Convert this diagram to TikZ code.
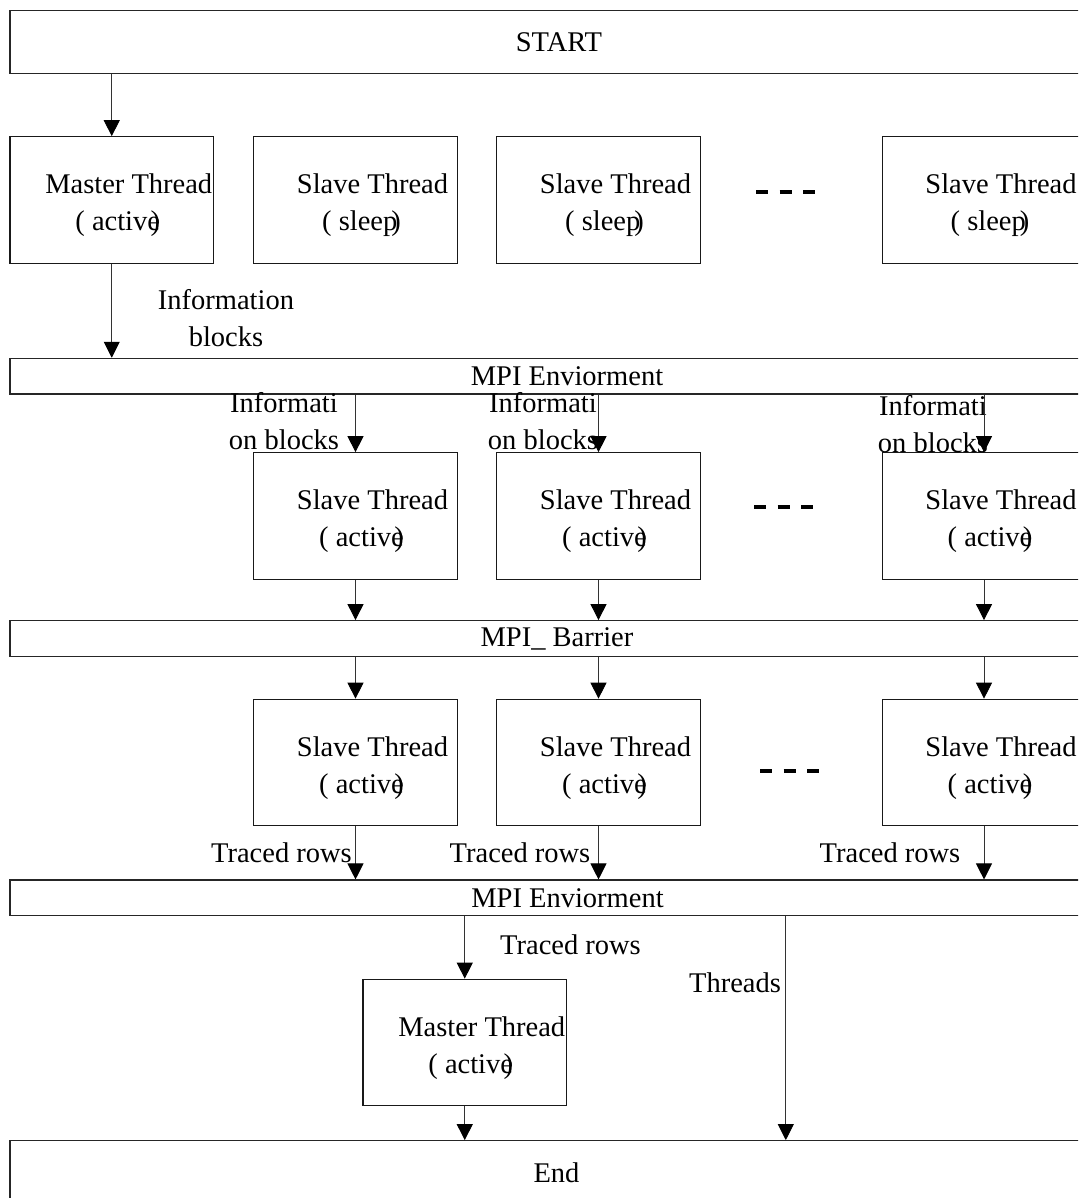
\documentclass[tikz,border=0pt]{standalone}
\usepackage{fontspec}
\setmainfont{Liberation Serif}
\usetikzlibrary{arrows.meta}
\newcommand{\thrtxt}[2]{\hspace*{34pt}\begin{tabular}{@{}c@{}}#1\rule{0pt}{36pt}\\#2\hspace*{22pt}\end{tabular}}
\newcommand{\actv}{( active\llap{)}}
\newcommand{\slp}{( sleep\kern-6pt)}
\begin{document}
\begin{tikzpicture}[x=1pt,y=-1pt,
  every node/.style={font=\fontsize{28.5}{37}\selectfont},
  thrbox/.style={draw=black!90,line width=1.1pt,rectangle,minimum width=203.5pt,minimum height=126.6pt,inner sep=0pt},
  bar/.style={draw=black!85,line width=1.2pt,rectangle,minimum width=1090pt,inner sep=0pt},
  arr/.style={draw=black!80,line width=0.9pt,-{Triangle[length=16pt,width=16pt,color=black]}},
  lbl/.style={inner sep=0pt,align=center},
  dots/.style={line width=4pt,dash pattern=on 12pt off 11.5pt}]
\useasboundingbox (0,0) rectangle (1078,1198);
\clip (0,0) rectangle (1078,1198);
\fill[white] (0,0) rectangle (1078,1198);
% bars
\node[bar,minimum height=62.6pt] (start) at (555,42) {\hspace*{8pt}START};
\node[bar,minimum height=35.7pt] (mpi1) at (555,376.2) {\hspace*{24pt}MPI Enviorment};
\node[bar,minimum height=36pt] (barr) at (555,638.7) {\hspace*{4pt}MPI\_ Barrier};
\node[bar,minimum height=35.7pt] (mpi2) at (555,897.9) {\hspace*{25pt}MPI Enviorment};
\node[bar,minimum height=64.6pt] (endb) at (555,1173) {\hspace*{3pt}End};
% row 1
\node[thrbox] (m1) at (111.75,200) {\thrtxt{Master Thread}{\actv}};
\node[thrbox] (s1) at (355.5,200) {\thrtxt{Slave Thread}{\slp}};
\node[thrbox] (s2) at (598.5,200) {\thrtxt{Slave Thread}{\slp}};
\node[thrbox] (s3) at (984,200) {\thrtxt{Slave Thread}{\slp}};
% row 2
\node[thrbox] (ra) at (355.5,516) {\thrtxt{Slave Thread}{\actv}};
\node[thrbox] (rb) at (598.5,516) {\thrtxt{Slave Thread}{\actv}};
\node[thrbox] (rc) at (984,516) {\thrtxt{Slave Thread}{\actv}};
% row 3
\node[thrbox] (qa) at (355.5,762.5) {\thrtxt{Slave Thread}{\actv}};
\node[thrbox] (qb) at (598.5,762.5) {\thrtxt{Slave Thread}{\actv}};
\node[thrbox] (qc) at (984,762.5) {\thrtxt{Slave Thread}{\actv}};
% bottom master
\node[thrbox] (m2) at (464.75,1042.5) {\thrtxt{Master Thread}{\actv}};
% dashes
\draw[dots] (756,192) -- (815,192);
\draw[dots] (754,506.7) -- (816,506.7);
\draw[dots] (760,770.7) -- (819,770.7);
% labels
\node[lbl] (li) at (226,318.5) {Information\\blocks};
\node[lbl] (la) at (284,421) {Informati\\on blocks};
\node[lbl] (lb) at (543,421) {Informati\\on blocks};
\node[lbl] (lc) at (933,424.5) {Informati\\on blocks};
\node[lbl] (ta) at (281.5,852.7) {Traced rows};
\node[lbl] (tb) at (520,852.7) {Traced rows};
\node[lbl] (tc) at (890,852.7) {Traced rows};
\node[lbl] (td) at (570.5,945) {Traced rows};
\node[lbl] (th) at (735,983) {Threads};
% connectors
\draw[arr] (start.south -| m1.north) -- (m1.north);
\draw[arr] (m1.south) -- (m1.south |- mpi1.north);
\foreach \a/\b in {ra/qa,rb/qb,rc/qc}{
  \draw[arr] (mpi1.south -| \a.north) -- (\a.north);
  \draw[arr] (\a.south) -- (\a.south |- barr.north);
  \draw[arr] (barr.south -| \b.north) -- (\b.north);
  \draw[arr] (\b.south) -- (\b.south |- mpi2.north);
}
\draw[arr] (mpi2.south -| m2.north) -- (m2.north);
\draw[arr] (m2.south) -- (m2.south |- endb.north);
\coordinate (tx) at (785.8,0);
\draw[arr] (mpi2.south -| tx) -- (endb.north -| tx);
\end{tikzpicture}
\end{document}
